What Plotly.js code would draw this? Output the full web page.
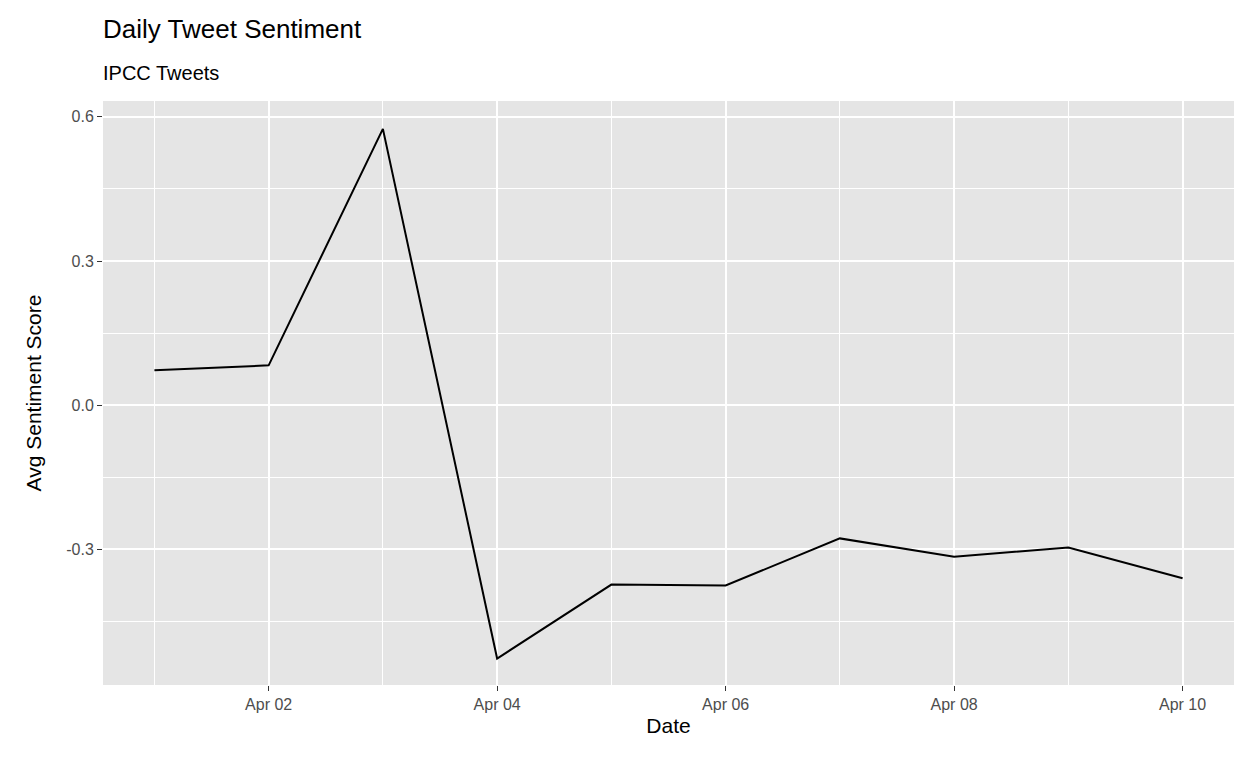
<!DOCTYPE html>
<html><head><script src="https://cdn.plot.ly/plotly-3.0.1.min.js"></script>
<style>body{margin:0}</style></head><body>
<div id="c" style="width:1248px;height:768px"></div>
<script>
const dates=["2023-04-01","2023-04-02","2023-04-03","2023-04-04","2023-04-05","2023-04-06","2023-04-07","2023-04-08","2023-04-09","2023-04-10"];
const scores=[0.073,0.083,0.575,-0.527,-0.373,-0.375,-0.277,-0.315,-0.296,-0.360];
const ff="Liberation Sans, Arial, sans-serif";
Plotly.newPlot("c",[{x:dates,y:scores,type:"scatter",mode:"lines",line:{color:"#000",width:2},hoverinfo:"x+y"}],{
width:1248,height:768,margin:{l:103,r:14,t:101,b:83},
paper_bgcolor:"#fff",plot_bgcolor:"#e5e5e5",showlegend:false,
font:{family:ff},
xaxis:{type:"date",range:["2023-03-31T13:12","2023-04-10T10:48"],tick0:"2023-04-02",dtick:2*86400000,tickformat:"Apr %d",
 showgrid:true,gridcolor:"#fff",gridwidth:2,zeroline:false,ticks:"outside",ticklen:5,tickcolor:"#333",
 tickfont:{size:16,color:"#4d4d4d"},
 minor:{tick0:"2023-04-01",dtick:86400000,showgrid:true,gridcolor:"#fff",gridwidth:1},
 title:{text:"Date",font:{size:21,color:"#000"},standoff:6}},
yaxis:{range:[-0.582,0.633],tickvals:[0.6,0.3,0,-0.3],ticktext:["0.6","0.3","0.0","-0.3"],
 showgrid:true,gridcolor:"#fff",gridwidth:2,zeroline:false,ticks:"outside",ticklen:5,tickcolor:"#333",
 tickfont:{size:16,color:"#4d4d4d"},
 minor:{tickvals:[0.45,0.15,-0.15,-0.45],showgrid:true,gridcolor:"#fff",gridwidth:1},
 title:{text:"Avg Sentiment Score",font:{size:21,color:"#000"},standoff:18}},
annotations:[
 {text:"Daily Tweet Sentiment",xref:"paper",yref:"paper",x:0,y:1,xshift:-2,yshift:72,xanchor:"left",yanchor:"middle",showarrow:false,font:{size:26,color:"#000"}},
 {text:"IPCC Tweets",xref:"paper",yref:"paper",x:0,y:1,xshift:-2,yshift:28,xanchor:"left",yanchor:"middle",showarrow:false,font:{size:20,color:"#000"}}
]},{displayModeBar:false});
</script></body></html>
